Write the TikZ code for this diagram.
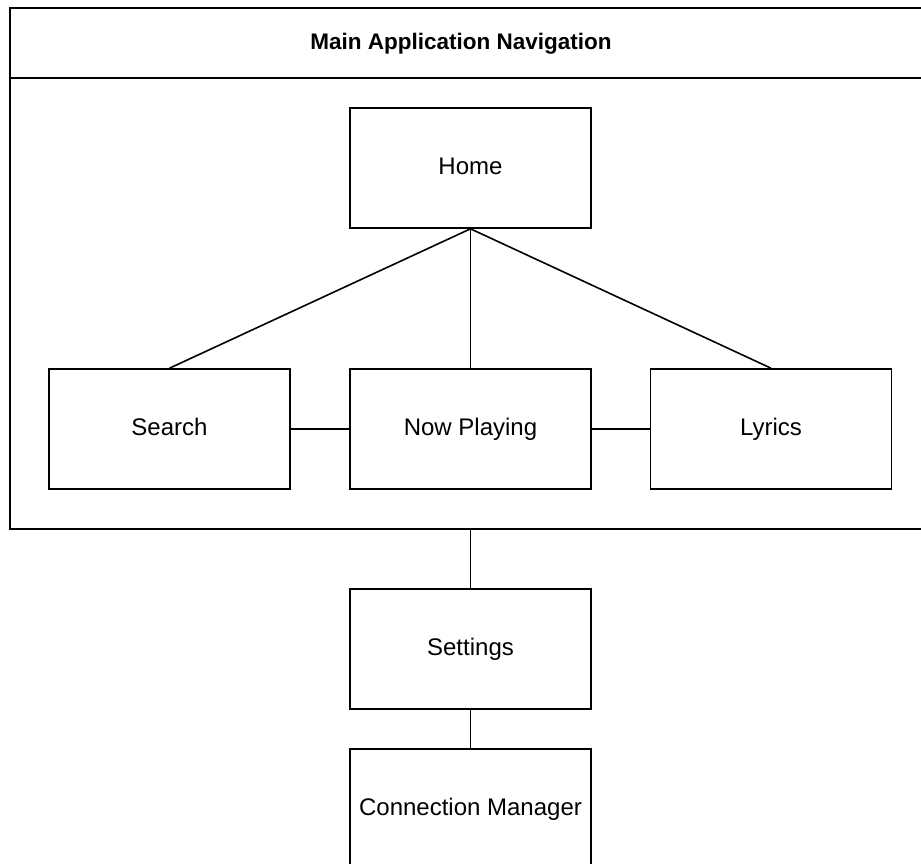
\documentclass[tikz,border=0pt]{standalone}
\usepackage{fontspec}
\setmainfont{Liberation Sans}
\begin{document}
\begin{tikzpicture}[x=1pt,y=-1pt,
  line width=1.6pt,
  box/.style={draw=black, rectangle, minimum width=241pt, minimum height=120pt, inner sep=0pt, text height=17pt, text depth=5pt, font=\fontsize{24}{28}\selectfont},
  link/.style={draw=black, line width=1.6pt}]
\clip (0,0) rectangle (921,863);
\fill[white] (0,0) rectangle (921,863);
% container
\draw (10,8) rectangle (940,529);
\draw (10,78) -- (940,78);
\node[font=\bfseries\fontsize{22.5}{26}\selectfont, text height=16pt, text depth=5pt, inner sep=0pt] (title) at (461,44) {Main Application Navigation};
\coordinate (contbot) at (470.5,529);
% boxes
\node[box] (home) at (470.5,168) {Home};
\node[box] (search) at (169.5,429) {Search};
\node[box] (now) at (470.5,429) {Now Playing};
\node[box] (lyrics) at (771,429) {Lyrics};
\node[box] (settings) at (470.5,649) {Settings};
\node[box] (conn) at (470.5,809) {Connection Manager};
% connectors
\draw[link] (home.south) -- (search.north);
\draw[link] (home.south) -- (now.north);
\draw[link] (home.south) -- (lyrics.north);
\draw[link] (search.east) -- (now.west);
\draw[link] (now.east) -- (lyrics.west);
\draw[link] (contbot) -- (settings.north);
\draw[link] (settings.south) -- (conn.north);
\end{tikzpicture}
\end{document}
